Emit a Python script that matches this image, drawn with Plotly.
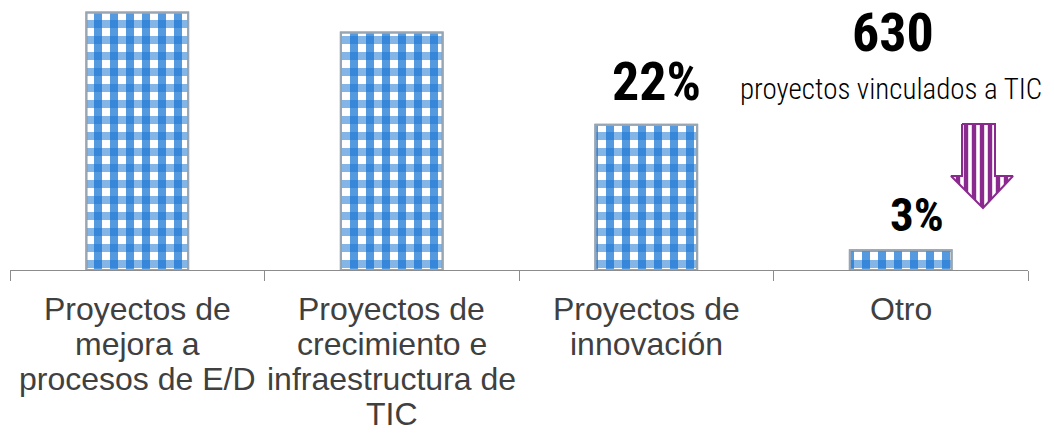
import plotly.graph_objects as go

categories = ["Proyectos de mejora a procesos de E/D",
              "Proyectos de crecimiento e infraestructura de TIC",
              "Proyectos de innovación",
              "Otro"]
label_lines = [["Proyectos de", "mejora a", "procesos de E/D"],
               ["Proyectos de", "crecimiento e", "infraestructura de", "TIC"],
               ["Proyectos de", "innovación"],
               ["Otro"]]
values = [39, 36, 22, 3]
shown_labels = {2: "22%", 3: "3%"}
headline_number = "630"
headline_text = "proyectos vinculados a TIC"

W, H = 1054, 433
L, R, T, B = 10, 26, 0, 163
px_per_unit = 6.6
plot_h = H - T - B

BLUE = "#1C78D4"
fig = go.Figure()
fig.add_trace(go.Bar(
    x=categories, y=values, width=0.4,
    marker=dict(color="white", line=dict(color="#98a6b4", width=2),
                pattern=dict(shape="|", fgcolor=BLUE, fgopacity=0.75, size=16, solidity=0.5)),
    hoverinfo="skip", showlegend=False))
fig.add_trace(go.Bar(
    x=categories, y=values, width=0.4,
    marker=dict(color="rgba(0,0,0,0)", line=dict(color="#98a6b4", width=2),
                pattern=dict(shape="-", fgcolor=BLUE, fgopacity=0.55, size=16, solidity=0.5)),
    hoverinfo="skip", showlegend=False))

# arrow decoration (pixel coordinates of the plot area)
ax = [962, 995, 995, 1013, 983, 951, 962, 962]
ay = [124, 124, 176, 176, 208, 176, 176, 124]
fig.add_trace(go.Scatter(
    x=ax, y=ay, xaxis="x2", yaxis="y2", mode="lines", fill="toself",
    line=dict(color="#8B2A8E", width=2),
    fillcolor="white",
    fillpattern=dict(shape="|", fgcolor="#8B2A8E", bgcolor="white", fgopacity=1,
                     size=8, solidity=0.55),
    hoverinfo="skip", showlegend=False))

bold_font = "Roboto Condensed, Roboto, sans-serif"
ann = []
for i, txt in shown_labels.items():
    ann.append(dict(x=categories[i], y=values[i], xref="x", yref="y", text="<b>%s</b>" % txt,
                    showarrow=False, yanchor="bottom", xshift=10 if i == 2 else 16,
                    yshift=10 if i == 2 else 6,
                    font=dict(family=bold_font, size=54 if i == 2 else 47, color="black")))
ann.append(dict(x=893, y=32, xref="x2", yref="y2", text="<b>%s</b>" % headline_number,
                showarrow=False, font=dict(family=bold_font, size=54, color="black")))
ann.append(dict(x=891, y=89, xref="x2", yref="y2", text=headline_text,
                showarrow=False, font=dict(family=bold_font, size=29, weight=300, color="black")))
for i, lines in enumerate(label_lines):
    for j, line in enumerate(lines):
        ann.append(dict(x=categories[i], y=0, xref="x", yref="paper", text=line,
                        showarrow=False, yanchor="top", yshift=-19 - 35 * j,
                        font=dict(family="Liberation Sans, Arial, sans-serif", size=32, color="#404040")))

fig.update_layout(
    width=W, height=H, margin=dict(l=L, r=R, t=T, b=B),
    paper_bgcolor="white", plot_bgcolor="white", barmode="overlay",
    xaxis=dict(showticklabels=False, tickson="boundaries", ticks="outside", ticklen=10,
               tickcolor="#8c8c8c", showline=True, linecolor="#8c8c8c", linewidth=1,
               showgrid=False, zeroline=False, fixedrange=True),
    yaxis=dict(range=[0, plot_h / px_per_unit], visible=False, showgrid=False, zeroline=False),
    xaxis2=dict(overlaying="x", range=[L, W - R], visible=False),
    yaxis2=dict(overlaying="y", range=[H - B, T], visible=False),
    annotations=ann,
)
fig.write_html("out.html", config={"displayModeBar": False},
               post_script="document.body.style.margin='0px';")
